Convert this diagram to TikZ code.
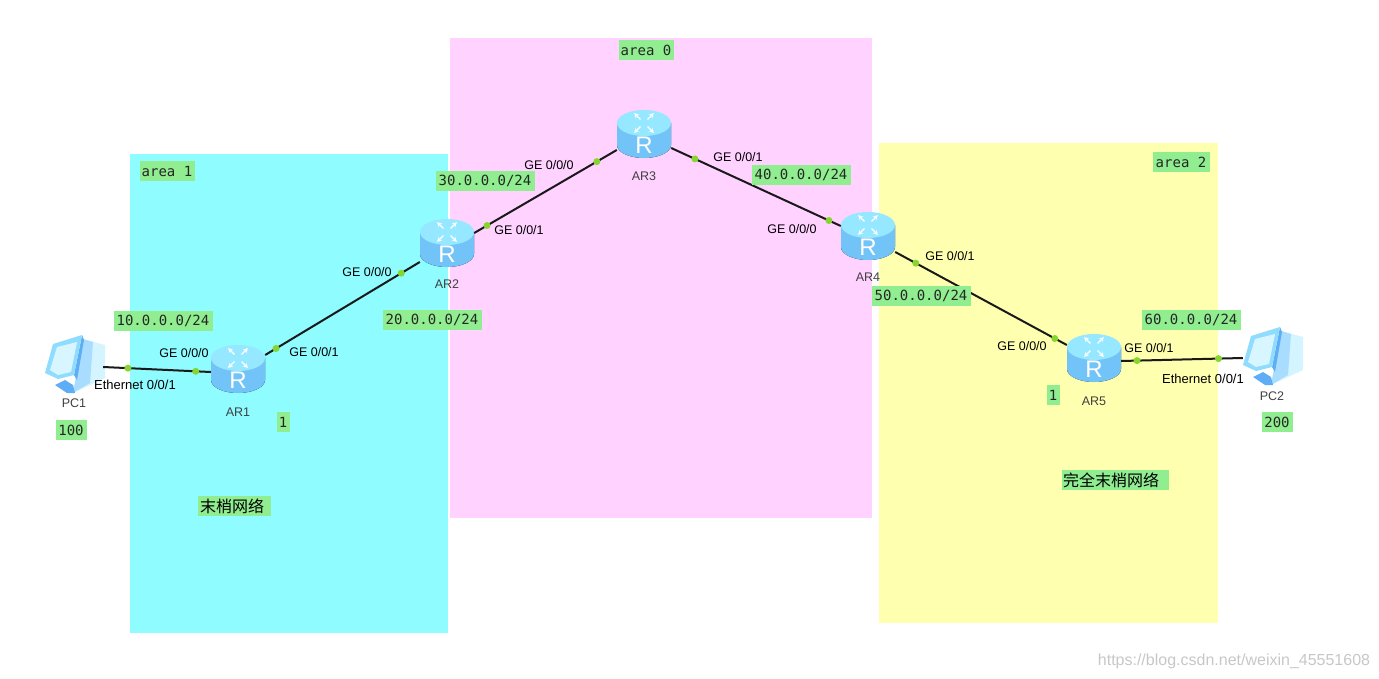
\documentclass[tikz,border=0pt]{standalone}
\usepackage{fontspec}
\setmainfont{Liberation Sans}
\setmonofont{DejaVu Sans Mono}
\newfontfamily\cjk{Noto Sans CJK SC}
\definecolor{areaA}{HTML}{8FFCFF}
\definecolor{areaB}{HTML}{FFD2FF}
\definecolor{areaC}{HTML}{FFFFB0}
\definecolor{tagbg}{HTML}{90EE90}
\definecolor{dotc}{HTML}{86D531}
\definecolor{rtop}{HTML}{95E8FF}
\definecolor{rside}{HTML}{72C4F8}
\definecolor{rmid}{HTML}{A8E6FF}
\definecolor{pcface}{HTML}{8FDCFF}
\definecolor{pcscreen}{HTML}{D8F6FF}
\definecolor{pcedge}{HTML}{5FAEF5}
\definecolor{pctower}{HTML}{D4F5FF}
\definecolor{pcshade}{HTML}{A8DDFF}
\tikzset{
  devbox/.style={inner sep=0pt,minimum width=54pt,minimum height=46pt},
  pcbox/.style={inner sep=0pt,minimum width=58pt,minimum height=58pt},
  devname/.style={inner sep=0pt,font=\fontsize{12.5}{13}\selectfont,text=black!75},
  portname/.style={inner sep=0pt,font=\fontsize{12.5}{13}\selectfont},
  ethname/.style={inner sep=0pt,font=\fontsize{13}{13}\selectfont},
  tag/.style={fill=tagbg,inner sep=0pt,minimum height=20pt,font=\ttfamily\fontsize{14}{14}\selectfont,text=black!85},
  cntag/.style={fill=tagbg,inner sep=0pt,minimum height=20pt,font=\cjk\fontsize{16}{16}\selectfont},
  link/.style={line width=2pt,black!90},
  portdot/.style={circle,fill=dotc,inner sep=0pt,minimum size=7pt},
  router/.pic={
    \fill[left color=rside,middle color=rmid,right color=rside]
      (-27,-11) -- (-27,11) arc[x radius=27,y radius=-13,start angle=180,end angle=360] -- (27,-11) -- cycle;
    \fill[rtop] (0,-11) ellipse[x radius=27,y radius=13];
    \foreach \ang in {45,135,225,315}
      \draw[white,line width=1.2pt,-stealth,rotate around={\ang:(0,-11)}]
        (5,-11) -- (14,-11);
    \node[white,inner sep=0pt,font=\fontsize{24}{24}\selectfont] at (0,11) {R};
  },
  pc/.pic={
    \fill[pctower] (9,-26) -- (31,-20) -- (31,13) -- (-1,28) -- cycle;
    \fill[pcshade] (9,-26) -- (19,-23) -- (16,18) -- (-1,28) -- cycle;
    \fill[pcedge] (-19,20) -- (-9,15) -- (-1,20) -- (1,28) -- (-7,28) -- cycle;
    \fill[pcedge] (8,-30) -- (10,-25) -- (3,15) -- (0,10) -- cycle;
    \fill[pcface] (-29,8) -- (-21,-21) -- (8,-30) -- (0,10) -- (-16,14) -- cycle;
    \fill[pcscreen] (-24,5) -- (-17,-18) -- (3,-23) -- (-3,7) -- (-16,10) -- cycle;
  },
}
\begin{document}
\begin{tikzpicture}[x=1pt,y=-1pt,line join=round]
\useasboundingbox (0,0) rectangle (1379,679);
% areas
\fill[areaA] (130,154) rectangle (448,633);
\fill[areaB] (450,38) rectangle (872,518);
\fill[areaC] (879,143) rectangle (1218,623);
% devices
\foreach \n/\px/\py/\ly in {AR1/238/369/412,AR2/447/243/284,AR3/644/134/176,AR4/868/236/277,AR5/1094/358/401}{
  \node[devbox] (\n) at (\px,\py) {};
  \pic at (\n) {router};
  \node[devname] (name\n) at (\px,\ly) {\n};
}
\foreach \n/\px/\py/\ly in {PC1/74/365/403,PC2/1272/357/396}{
  \node[pcbox] (\n) at (\px,\py) {};
  \pic at (\n) {pc};
  \node[devname] (name\n) at (\px,\ly) {\n};
}
% links
\draw[link] ([yshift=-2pt]PC1.east) -- node[portdot,pos=.23] (d1) {} node[portdot,pos=.86] (d2) {} ([yshift=-3pt]AR1.west);
\draw[link] ([yshift=14pt]AR1.east) -- node[portdot,pos=.07] (d3) {} node[portdot,pos=.88] (d4) {} ([yshift=-19pt]AR2.west);
\draw[link] ([yshift=10pt]AR2.east) -- node[portdot,pos=.09] (d5) {} node[portdot,pos=.86] (d6) {} ([yshift=-16pt]AR3.west);
\draw[link] ([yshift=-14pt]AR3.east) -- node[portdot,pos=.14] (d7) {} node[portdot,pos=.93] (d8) {} ([yshift=10pt]AR4.west);
\draw[link] ([yshift=-16pt]AR4.east) -- node[portdot,pos=.12] (d9) {} node[portdot,pos=.93] (d10) {} ([yshift=13pt]AR5.west);
\draw[link] ([yshift=-3pt]AR5.east) -- node[portdot,pos=.13] (d11) {} node[portdot,pos=.80] (d12) {} ([yshift=-1pt]PC2.west);
% port labels
\node[portname] (p1) at (184,353) {GE 0/0/0};
\node[portname] (p2) at (314,352) {GE 0/0/1};
\node[ethname] (p3) at (135,385) {Ethernet 0/0/1};
\node[portname] (p4) at (367,272) {GE 0/0/0};
\node[portname] (p5) at (519,230) {GE 0/0/1};
\node[portname] (p6) at (549,165) {GE 0/0/0};
\node[portname] (p7) at (738,157) {GE 0/0/1};
\node[portname] (p8) at (792,229) {GE 0/0/0};
\node[portname] (p9) at (950,256) {GE 0/0/1};
\node[portname] (p10) at (1022,346) {GE 0/0/0};
\node[portname] (p11) at (1149,348) {GE 0/0/1};
\node[ethname] (p12) at (1203,379) {Ethernet 0/0/1};
% green tags
\foreach \i/\px/\py/\w/\t in {n1/163/321/99/10.0.0.0\slash24,n2/432/320/99/20.0.0.0\slash24,n3/485/181/99/30.0.0.0\slash24,n4/801/175/99/40.0.0.0\slash24,n5/921/296/99/50.0.0.0\slash24,n6/1191/320/99/60.0.0.0\slash24,a0/646/50/55/area 0,a1/167/171/55/area 1,a2/1181/162/57/area 2,c1/71/430/31/100,c2/1277/422/31/200,c3/283/422/13/1,c4/1053/395/13/1}
  \node[tag,minimum width=\w pt] (\i) at (\px,\py) {\t};
\node[cntag,minimum width=73pt] (stub) at (234,506) {末梢网络\kern4pt};
\node[cntag,minimum width=107pt] (tstub) at (1115,480) {完全末梢网络\kern8pt};
\node[inner sep=0pt,text=black!22,font=\fontsize{16}{16}\selectfont] (mark) at (1234,661) {https://blog.csdn.net/weixin\_45551608};
\end{tikzpicture}
\end{document}
